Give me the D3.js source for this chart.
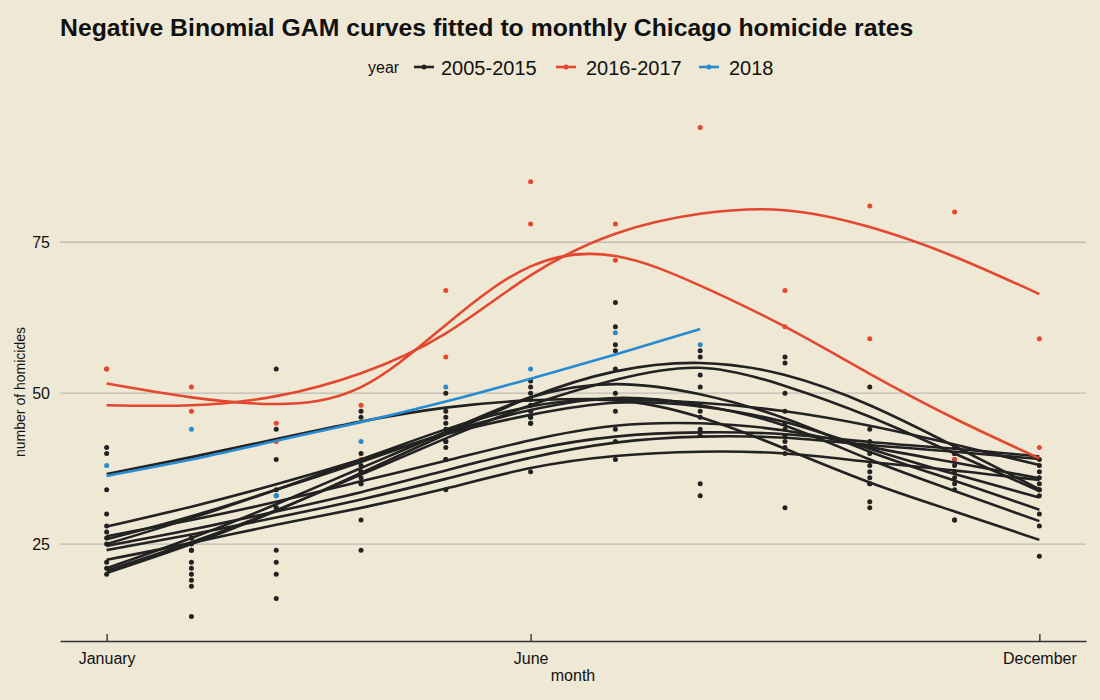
<!DOCTYPE html>
<html><head><meta charset="utf-8">
<script src="https://cdn.jsdelivr.net/npm/d3@7"></script>
<style>
html,body{margin:0;padding:0;background:#eee8d5;}
svg{display:block;font-family:"Liberation Sans",Arial,Helvetica,sans-serif;}
</style>
</head><body>
<svg id="chart" width="1100" height="700"></svg>
<script>
// ---- data ----
const months = [1,2,3,4,5,6,7,8,9,10,11,12];
const monthNames = ["January","February","March","April","May","June","July","August","September","October","November","December"];
const xTickMonths = [1,6,12];
const yTicks = [25,50,75];
const groups = ["2005-2015","2016-2017","2018"];
const groupColors = ["#222222","#e4472f","#268bd2"];

// observed monthly homicide counts (one array per month, Jan..Dec)
const pointsBlack = [
  [41,40,34,30,28,27,26,25,22,21,20],
  [26,26,25,24,24,22,21,20,19,18,13],
  [54,44,39,34,33,31,31,24,22,20,16],
  [47,46,40,38,37,37,36,35,35,29,24],
  [50,47,46,45,44,42,42,41,39,39,34],
  [52,51,50,49,48,47,46,46,45,45,37],
  [65,61,58,57,54,50,49,47,44,42,39],
  [57,56,53,51,48,47,46,44,43,35,33],
  [56,55,50,47,45,44,43,42,41,40,31],
  [51,44,42,40,38,37,36,35,35,32,31],
  [41,40,40,39,38,37,36,35,34,29,29],
  [39,38,37,36,35,34,34,33,30,28,23]
];
const pointsRed = [
  [54,54],[51,47],[45,42],[48,39],[67,56],[85,78],
  [78,72],[94],[67,61],[81,59],[80,39],[59,41]
];
const pointsBlue = [38,44,33,42,51,54,60,58];

// fitted GAM curves, value at each month
const curvesBlack = [
  [36.6,39.4,42.4,45.3,47.6,48.8,49.0,48.4,47.0,44.6,41.5,38.1],
  [20.2,25.0,30.5,36.8,43.2,49.3,53.6,55.0,53.0,48.0,41.2,34.1],
  [20.6,25.3,30.6,36.5,42.5,48.0,52.2,54.2,51.2,46.1,40.0,33.8],
  [21.0,26.0,31.6,37.6,43.6,49.3,51.5,49.8,45.8,40.3,35.5,30.7],
  [25.0,29.3,34.0,39.0,44.0,47.8,48.8,46.0,40.8,35.2,30.4,25.7],
  [25.8,29.6,34.0,38.6,43.4,47.2,49.2,48.0,44.6,39.0,33.8,28.8],
  [27.9,31.2,34.9,39.0,43.2,46.4,48.4,47.8,45.2,40.8,36.6,32.7],
  [26.3,29.0,32.0,35.4,38.8,42.2,44.6,45.0,43.8,41.1,38.5,35.9],
  [24.7,27.4,30.4,33.6,37.2,40.6,42.8,43.5,43.2,41.9,40.8,39.5],
  [24.0,26.6,29.4,32.4,35.8,39.3,41.8,42.8,42.6,41.4,40.3,39.1],
  [22.4,25.2,28.2,31.0,34.2,37.6,39.6,40.3,40.0,38.6,37.2,35.6]
];
const curvesRed = [
  [51.6,49.3,48.2,51.0,61.3,71.0,72.7,67.8,61.0,53.2,45.8,39.2],
  [48.0,48.0,49.5,53.3,59.9,69.5,76.4,79.7,80.3,77.5,72.6,66.4]
];
const curveBlue = [36.3,39.0,42.1,45.2,48.6,52.4,56.4,60.6];

// ---- drawing ----
const svg = d3.select("#chart");
svg.append("rect").attr("width",1100).attr("height",700).attr("fill","#eee8d5");

const x = d3.scaleLinear().domain([0.45, 12.55]).range([60, 1086]);
const y = d3.scaleLinear().domain([8.95, 98.05]).range([641, 103]);

// grid
svg.append("g").selectAll("line").data(yTicks).join("line")
  .attr("x1", 60).attr("x2", 1086)
  .attr("y1", d => y(d)).attr("y2", d => y(d))
  .attr("stroke", "#bfbcb3").attr("stroke-width", 1.4);

// y axis
const gy = svg.append("g").attr("transform","translate(60,0)")
  .call(d3.axisLeft(y).tickValues(yTicks).tickSize(0).tickPadding(10));
gy.select(".domain").remove();
gy.selectAll("text").attr("font-size",16).attr("fill","#111")
  .attr("font-family","Liberation Sans, Arial, sans-serif");

// x axis
const gx = svg.append("g").attr("transform","translate(0,641)")
  .call(d3.axisBottom(x).tickValues(xTickMonths)
    .tickFormat(m => monthNames[m-1]).tickSizeInner(-7).tickSizeOuter(0).tickPadding(12));
gx.select(".domain").attr("stroke","#333").attr("stroke-width",1.4);
gx.selectAll(".tick line").attr("stroke","#333").attr("stroke-width",1.4);
gx.selectAll("text").attr("font-size",16).attr("fill","#111")
  .attr("font-family","Liberation Sans, Arial, sans-serif");

// axis titles
svg.append("text").attr("x", 573).attr("y", 681).attr("text-anchor","middle")
  .attr("font-size",16).attr("fill","#111").text("month");
svg.append("text").attr("transform","translate(25,392) rotate(-90)")
  .attr("text-anchor","middle").attr("font-size",14).attr("fill","#111")
  .text("number of homicides");

// points
const pts = svg.append("g");
function drawPoints(arr, color){
  arr.forEach((vals, i) => {
    const list = Array.isArray(vals) ? vals : [vals];
    pts.selectAll(null).data(list).enter().append("circle")
      .attr("cx", x(months[i])).attr("cy", d => y(d))
      .attr("r", 2.5).attr("fill", color);
  });
}
drawPoints(pointsBlack, groupColors[0]);
drawPoints(pointsRed, groupColors[1]);
drawPoints(pointsBlue, groupColors[2]);

// curves
const line = d3.line().x((d,i) => x(months[i])).y(d => y(d)).curve(d3.curveNatural);
const lg = svg.append("g").attr("fill","none").attr("stroke-width",2.6)
  .attr("stroke-linecap","butt");
curvesBlack.forEach(c => lg.append("path").attr("d", line(c)).attr("stroke", groupColors[0]));
curvesRed.forEach(c => lg.append("path").attr("d", line(c)).attr("stroke", groupColors[1]));
lg.append("path").attr("d", line(curveBlue)).attr("stroke", groupColors[2]);

// title
const title = svg.append("text").attr("x", 60).attr("y", 36)
  .attr("font-size", 22).attr("font-weight","bold").attr("fill","#111")
  .text("Negative Binomial GAM curves fitted to monthly Chicago homicide rates");
const tw = title.node().getComputedTextLength();
title.attr("font-size", 22 * 854 / tw);

// legend
const leg = svg.append("g");
leg.append("text").attr("x", 368).attr("y", 73).attr("font-size", 16).attr("fill","#111").text("year");
const legX = [414, 556, 699];
const legTextX = [441, 586, 729];
groups.forEach((g, i) => {
  leg.append("line").attr("x1", legX[i]).attr("x2", legX[i] + 20)
    .attr("y1", 67).attr("y2", 67).attr("stroke", groupColors[i]).attr("stroke-width", 2.6);
  leg.append("circle").attr("cx", legX[i] + 10).attr("cy", 67).attr("r", 2.5).attr("fill", groupColors[i]);
  leg.append("text").attr("x", legTextX[i]).attr("y", 74.5).attr("font-size", 20)
    .attr("fill","#111").text(g);
});
</script>
</body></html>
